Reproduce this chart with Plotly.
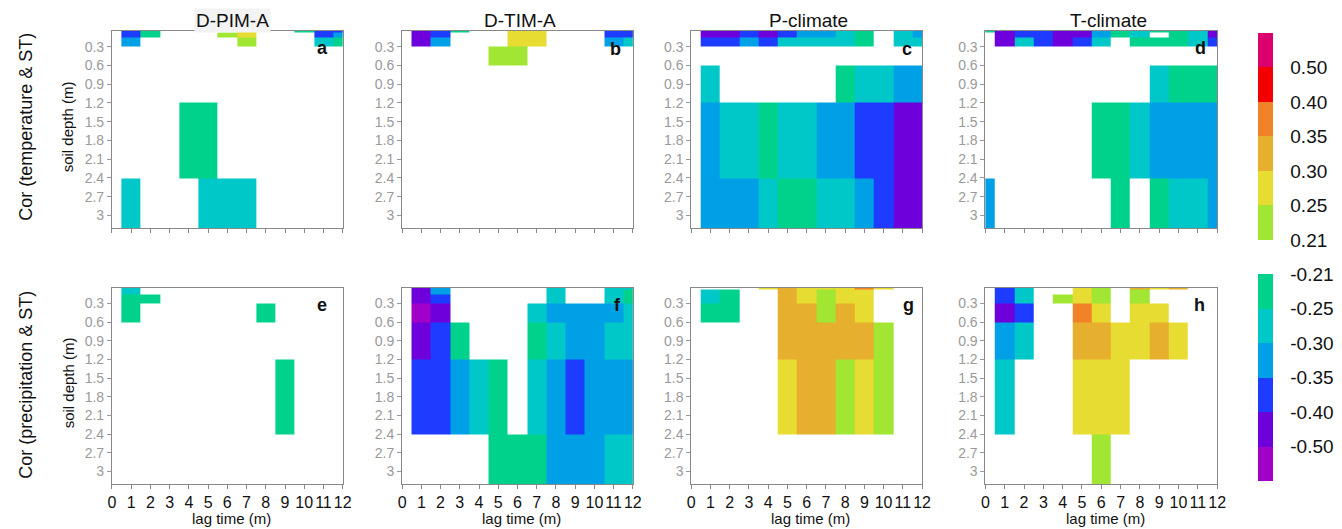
import numpy as np
import plotly.graph_objects as go

NA = None

# Grid coordinates: lag in months, soil depth of each layer in metres
lags = list(range(13))
depths = [0.05, 0.1, 0.2, 0.4, 0.8, 1.6, 3.2]

depth_ticks = [0.3, 0.6, 0.9, 1.2, 1.5, 1.8, 2.1, 2.4, 2.7, 3.0]
depth_tick_text = ["0.3", "0.6", "0.9", "1.2", "1.5", "1.8", "2.1", "2.4", "2.7", "3"]
lag_ticks = list(range(13))

panel_titles = ["D-PIM-A", "D-TIM-A", "P-climate", "T-climate"]
panel_letters = ["a", "b", "c", "d", "e", "f", "g", "h"]
row_titles = ["Cor (temperature & ST)", "Cor (precipitation & ST)"]

# Significant correlations (blank = not significant); rows follow `depths`, columns follow `lags`
cor_temp_dpim = [
    [NA, -0.37, -0.23, NA, NA, NA, NA, 0.27, NA, NA, -0.23, -0.38, -0.37],
    [NA, -0.38, -0.23, NA, NA, NA, 0.23, 0.28, NA, NA, NA, -0.38, -0.33],
    [NA, -0.32, NA, NA, NA, NA, NA, 0.23, NA, NA, NA, -0.27, -0.23],
    [NA, NA, NA, NA, NA, NA, NA, NA, NA, NA, NA, NA, NA],
    [NA, NA, NA, NA, NA, NA, NA, NA, NA, NA, NA, NA, NA],
    [NA, NA, NA, NA, -0.23, -0.22, NA, NA, NA, NA, NA, NA, NA],
    [NA, -0.27, NA, NA, NA, -0.27, -0.26, -0.28, NA, NA, NA, NA, NA],
]
cor_temp_dtim = [
    [NA, -0.45, -0.37, -0.23, NA, NA, 0.27, 0.27, NA, NA, NA, -0.37, -0.38],
    [NA, -0.45, -0.37, NA, NA, NA, 0.27, 0.27, NA, NA, NA, -0.37, -0.37],
    [NA, -0.44, -0.32, NA, NA, NA, 0.28, 0.26, NA, NA, NA, -0.32, -0.27],
    [NA, NA, NA, NA, NA, 0.23, 0.22, NA, NA, NA, NA, NA, NA],
    [NA, NA, NA, NA, NA, NA, NA, NA, NA, NA, NA, NA, NA],
    [NA, NA, NA, NA, NA, NA, NA, NA, NA, NA, NA, NA, NA],
    [NA, NA, NA, NA, NA, NA, NA, NA, NA, NA, NA, NA, NA],
]
cor_temp_pclim = [
    [NA, -0.45, -0.45, -0.37, -0.45, -0.37, -0.32, -0.32, -0.27, -0.23, NA, -0.27, -0.33],
    [NA, -0.44, -0.46, -0.38, -0.44, -0.38, -0.31, -0.33, -0.28, -0.22, NA, -0.26, -0.31],
    [NA, -0.37, -0.38, -0.32, -0.37, -0.27, -0.27, -0.27, -0.27, -0.23, NA, -0.27, -0.28],
    [NA, NA, NA, NA, NA, NA, NA, NA, NA, NA, NA, NA, NA],
    [NA, -0.27, NA, NA, NA, NA, NA, NA, -0.23, -0.27, -0.28, -0.32, -0.33],
    [NA, -0.32, -0.27, -0.28, -0.23, -0.27, -0.27, -0.32, -0.33, -0.37, -0.38, -0.45, -0.46],
    [NA, -0.32, -0.33, -0.32, -0.27, -0.23, -0.23, -0.27, -0.27, -0.32, -0.37, -0.45, -0.45],
]
cor_temp_tclim = [
    [-0.23, -0.45, -0.37, -0.37, -0.45, -0.45, -0.32, -0.23, -0.27, -0.23, -0.23, -0.27, -0.45],
    [NA, -0.44, -0.38, -0.37, -0.46, -0.44, -0.32, -0.22, -0.27, NA, -0.23, -0.27, -0.44],
    [NA, -0.45, -0.27, -0.37, -0.45, -0.37, -0.27, NA, -0.23, -0.23, -0.23, -0.27, -0.37],
    [NA, NA, NA, NA, NA, NA, NA, NA, NA, NA, NA, NA, NA],
    [NA, NA, NA, NA, NA, NA, NA, NA, NA, -0.27, -0.23, -0.23, -0.23],
    [NA, NA, NA, NA, NA, NA, -0.23, -0.23, -0.27, -0.32, -0.32, -0.33, -0.32],
    [-0.32, NA, NA, NA, NA, NA, NA, -0.23, NA, -0.23, -0.27, -0.27, -0.32],
]
cor_prec_dpim = [
    [NA, -0.27, NA, NA, NA, NA, NA, NA, NA, NA, NA, NA, NA],
    [NA, -0.27, NA, NA, NA, NA, NA, NA, NA, NA, NA, NA, NA],
    [NA, -0.23, -0.23, NA, NA, NA, NA, NA, NA, NA, NA, NA, NA],
    [NA, -0.23, NA, NA, NA, NA, NA, NA, -0.23, NA, NA, NA, NA],
    [NA, NA, NA, NA, NA, NA, NA, NA, NA, NA, NA, NA, NA],
    [NA, NA, NA, NA, NA, NA, NA, NA, NA, -0.23, NA, NA, NA],
    [NA, NA, NA, NA, NA, NA, NA, NA, NA, NA, NA, NA, NA],
]
cor_prec_dtim = [
    [NA, -0.45, -0.32, NA, NA, NA, NA, NA, -0.27, NA, NA, -0.27, -0.27],
    [NA, -0.45, -0.32, NA, NA, NA, NA, NA, -0.27, NA, NA, -0.27, -0.23],
    [NA, -0.45, -0.37, NA, NA, NA, NA, NA, -0.27, NA, NA, -0.27, -0.23],
    [NA, -0.55, -0.45, NA, NA, NA, NA, -0.27, -0.32, -0.32, -0.32, -0.32, -0.27],
    [NA, -0.45, -0.37, -0.23, NA, NA, NA, -0.23, -0.27, -0.32, -0.32, -0.27, -0.27],
    [NA, -0.37, -0.37, -0.32, -0.27, -0.23, NA, -0.27, -0.32, -0.37, -0.32, -0.32, -0.32],
    [NA, NA, NA, NA, NA, -0.23, -0.23, -0.23, -0.32, -0.32, -0.32, -0.27, -0.27],
]
cor_prec_pclim = [
    [NA, NA, NA, NA, 0.27, 0.32, 0.27, 0.27, 0.27, 0.37, 0.27, NA, NA],
    [NA, -0.27, -0.23, NA, NA, 0.32, 0.27, 0.23, 0.27, 0.27, NA, NA, NA],
    [NA, -0.27, -0.23, NA, NA, 0.33, 0.28, 0.23, 0.27, 0.26, NA, NA, NA],
    [NA, -0.23, -0.23, NA, NA, 0.32, 0.32, 0.23, 0.32, 0.27, NA, NA, NA],
    [NA, NA, NA, NA, NA, 0.32, 0.33, 0.32, 0.31, 0.32, 0.23, NA, NA],
    [NA, NA, NA, NA, NA, 0.27, 0.32, 0.32, 0.23, 0.27, 0.23, NA, NA],
    [NA, NA, NA, NA, NA, NA, NA, NA, NA, NA, NA, NA, NA],
]
cor_prec_tclim = [
    [NA, -0.37, -0.27, NA, NA, 0.27, 0.23, NA, 0.32, 0.27, 0.32, NA, NA],
    [NA, -0.37, -0.27, NA, NA, 0.27, 0.23, NA, 0.23, NA, NA, NA, NA],
    [NA, -0.38, -0.27, NA, 0.23, 0.27, 0.23, NA, 0.23, NA, NA, NA, NA],
    [NA, -0.45, -0.37, NA, NA, 0.37, 0.27, NA, 0.27, 0.27, NA, NA, NA],
    [NA, -0.32, -0.27, NA, NA, 0.32, 0.32, 0.27, 0.27, 0.32, 0.27, NA, NA],
    [NA, -0.27, NA, NA, NA, 0.27, 0.27, 0.27, NA, NA, NA, NA, NA],
    [NA, NA, NA, NA, NA, NA, 0.23, NA, NA, NA, NA, NA, NA],
]

panels = [cor_temp_dpim, cor_temp_dtim, cor_temp_pclim, cor_temp_tclim,
          cor_prec_dpim, cor_prec_dtim, cor_prec_pclim, cor_prec_tclim]

# Class boundaries of the two discrete colour bars
neg_edges = [-0.50, -0.40, -0.35, -0.30, -0.25]
pos_edges = [0.25, 0.30, 0.35, 0.40, 0.50]
neg_labels = ["-0.50", "-0.40", "-0.35", "-0.30", "-0.25", "-0.21"]
pos_labels = ["0.21", "0.25", "0.30", "0.35", "0.40", "0.50"]
neg_colors = ["#a000c8", "#6e00dc", "#1e3cff", "#00a0e6", "#00c8c8", "#00d28c"]
pos_colors = ["#a0e632", "#e6dc32", "#e6af2d", "#f08228", "#f50000", "#dc006e"]

W, H = 1342, 529
col_px = [(109, 342), (402, 635), (694, 927), (991, 1225)]
row_px = [(31, 228), (288, 484)]
FONT = "Liberation Sans, Arial, sans-serif"


def stepped(colors):
    n = len(colors)
    scale = []
    for i, c in enumerate(colors):
        scale.append([i / n, c])
        scale.append([(i + 1) / n, c])
    return scale


def classify(grid, edges, negative):
    arr = np.array(grid, dtype=float)
    idx = np.digitize(np.nan_to_num(arr, nan=0.0), edges) + 0.5
    keep = (arr < 0) if negative else (arr > 0)
    out = np.where(keep & ~np.isnan(arr), idx, np.nan)
    return [[None if np.isnan(v) else float(v) for v in row] for row in out]


def bar(labels, vals, ypx):
    top, bottom = ypx
    return dict(
        x=1266 / W, xanchor="left", xpad=0,
        y=1 - (top + bottom) / 2 / H, yanchor="middle", ypad=0,
        len=(bottom - top) / H, lenmode="fraction",
        thickness=15, thicknessmode="pixels",
        outlinewidth=0,
        tickmode="array", tickvals=vals, ticktext=labels,
        ticks="outside", ticklen=14, tickcolor="rgba(0,0,0,0)",
        tickfont=dict(family=FONT, size=19, color="#111"),
    )


fig = go.Figure()
layout = {}
for k, grid in enumerate(panels):
    r, c = divmod(k, 4)
    sfx = "" if k == 0 else str(k + 1)
    xa, ya = "x" + sfx, "y" + sfx

    neg = classify(grid, neg_edges, True)
    pos = classify(grid, pos_edges, False)
    fig.add_trace(go.Heatmap(
        x=lags, y=depths, z=neg, xaxis=xa, yaxis=ya,
        zmin=0, zmax=6, colorscale=stepped(neg_colors),
        showscale=(k == 0), hoverongaps=False,
        colorbar=bar(neg_labels, [1, 2, 3, 4, 5, 6], (274, 481)),
    ))
    fig.add_trace(go.Heatmap(
        x=lags, y=depths, z=pos, xaxis=xa, yaxis=ya,
        zmin=0, zmax=6, colorscale=stepped(pos_colors),
        showscale=(k == 0), hoverongaps=False,
        colorbar=bar(pos_labels, [0, 1, 2, 3, 4, 5], (33, 240)),
    ))

    x0, x1 = col_px[c]
    y0, y1 = row_px[r]
    layout["xaxis" + sfx] = dict(
        domain=[x0 / W, x1 / W], anchor=ya, range=[0, 12],
        tickmode="array", tickvals=lag_ticks, tickangle=0,
        ticks="outside", ticklen=4, tickcolor="#888",
        showline=True, mirror=True, linecolor="#888", linewidth=1,
        showgrid=False, zeroline=False,
        showticklabels=(r == 1),
        tickfont=dict(family=FONT, size=16, color="#111"),
    )
    layout["yaxis" + sfx] = dict(
        domain=[1 - y1 / H, 1 - y0 / H], anchor=xa, range=[3.2, 0.05],
        tickmode="array", tickvals=depth_ticks, ticktext=depth_tick_text,
        ticks="outside", ticklen=4, tickcolor="#999",
        showline=True, mirror=True, linecolor="#888", linewidth=1,
        showgrid=False, zeroline=False,
        tickfont=dict(family=FONT, size=14, color="#9a9a9a"),
    )

annotations = []
title_cx = [231, 521, 812, 1115]
for c, t in enumerate(panel_titles):
    annotations.append(dict(
        text=t, x=title_cx[c] / W, y=1 - 20 / H, xref="paper", yref="paper",
        xanchor="center", yanchor="middle", showarrow=False,
        font=dict(family=FONT, size=19, color="#111"),
        bgcolor="#f3f3f3" if c == 0 else None,
    ))

letter_px = [(322, 48), (617, 49), (912, 49), (1208, 48),
             (321, 305), (619, 305), (913, 305), (1207, 305)]
for (lx, ly), t in zip(letter_px, panel_letters):
    annotations.append(dict(
        text="<b>%s</b>" % t, x=lx / W, y=1 - ly / H, xref="paper", yref="paper",
        xanchor="center", yanchor="middle", showarrow=False,
        font=dict(family=FONT, size=18, color="#111"),
    ))

for r, t in enumerate(row_titles):
    cy = [127, 385][r]
    annotations.append(dict(
        text=t, x=22 / W, y=1 - cy / H, xref="paper", yref="paper",
        xanchor="center", yanchor="middle", textangle=-90, showarrow=False,
        font=dict(family=FONT, size=18, color="#111"),
    ))
    annotations.append(dict(
        text="soil depth (m)", x=65 / W, y=1 - [127, 383][r] / H,
        xref="paper", yref="paper", xanchor="center", yanchor="middle",
        textangle=-90, showarrow=False,
        font=dict(family=FONT, size=15, color="#111"),
    ))

for c in range(4):
    x0, x1 = col_px[c]
    annotations.append(dict(
        text="lag time (m)", x=(x0 + x1) / 2 / W + 4 / W, y=1 - 518 / H,
        xref="paper", yref="paper", xanchor="center", yanchor="middle",
        showarrow=False, font=dict(family=FONT, size=15, color="#111"),
    ))

fig.update_layout(
    width=W, height=H, margin=dict(l=0, r=0, t=0, b=0),
    paper_bgcolor="white", plot_bgcolor="white",
    showlegend=False, annotations=annotations, **layout,
)

fig.write_html("out.html")
